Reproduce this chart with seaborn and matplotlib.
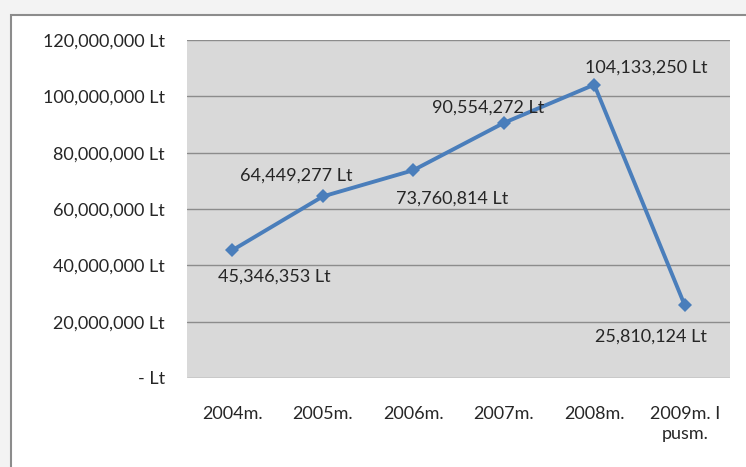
import matplotlib
matplotlib.use("Agg")
import matplotlib.pyplot as plt
import seaborn as sns
import pandas as pd
from matplotlib.patches import Rectangle
from matplotlib.ticker import FuncFormatter

categories = ["2004m.", "2005m.", "2006m.", "2007m.", "2008m.", "2009m. I\npusm."]
values = [45346353, 64449277, 73760814, 90554272, 104133250, 25810124]
# label offsets in pixels (dx, dy) from each point
label_offsets = [(42, -26), (-27, 21), (39, -28), (-16, 15), (52, 17), (-34, -31)]

sns.set_theme(style="white")
plt.rcParams['font.family'] = ['Lato', 'DejaVu Sans']

df = pd.DataFrame({"cat": categories, "val": values})
df["x"] = range(len(df))

fig = plt.figure(figsize=(7.46, 4.67), dpi=100)
fig.patch.set_facecolor("#f3f3f3")
# outer chart area with border
fig.patches.append(Rectangle((11/746, -0.02), 1.0, (467-15)/467 + 0.02,
                             transform=fig.transFigure, facecolor="white",
                             edgecolor="#8c8c8c", linewidth=1.5, zorder=-10))
ax = fig.add_axes([187/746, 1 - 378/467, (730-187)/746, (378-40)/467])
ax.set_facecolor("#d9d9d9")

sns.lineplot(data=df, x="x", y="val", ax=ax, color="#4a7ebb", linewidth=2.8,
             marker="D", markersize=7, markeredgewidth=0, zorder=3)

ax.set_xlim(-0.5, len(df) - 0.5)
ax.set_ylim(0, 120000000)
ax.set_yticks(range(0, 120000001, 20000000))
ax.yaxis.set_major_formatter(FuncFormatter(lambda v, p: "- Lt" if v == 0 else f"{int(v):,} Lt"))
ax.set_xticks(df["x"])
ax.set_xticklabels(categories)
ax.set_xlabel("")
ax.set_ylabel("")
ax.grid(axis="y", color="#8c8c8c", linewidth=1)
ax.set_axisbelow(True)
for s in ax.spines.values():
    s.set_visible(False)
ax.tick_params(axis="both", length=0, labelsize=13, colors="#262626")
ax.tick_params(axis="y", pad=16)
ax.tick_params(axis="x", pad=20)
for t in ax.get_xticklabels():
    t.set_horizontalalignment("center")
    t.set_multialignment("center")
    t.set_linespacing(1.3)

for i, (v, (dx, dy)) in enumerate(zip(values, label_offsets)):
    ax.annotate(f"{v:,} Lt", (i, v), xytext=(dx, dy), textcoords="offset pixels",
                ha="center", va="center",
                fontsize=13, color="#262626", zorder=4)

fig.savefig("out.png", dpi=100)
